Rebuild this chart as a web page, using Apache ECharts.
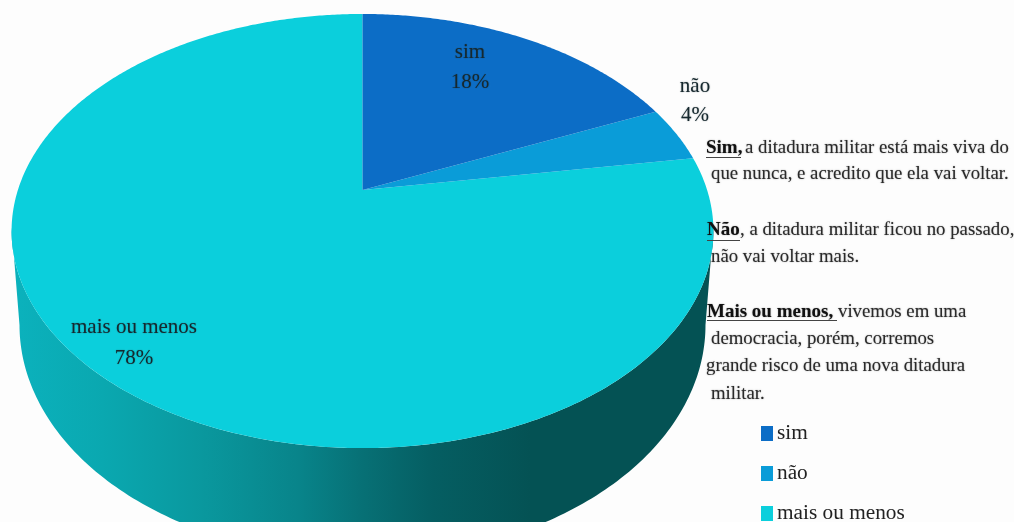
<!DOCTYPE html>
<html><head><meta charset="utf-8">
<style>html,body{margin:0;padding:0;background:#fdfdfd}#c{width:1014px;height:522px}</style>
<script src="https://cdn.jsdelivr.net/npm/echarts@6/dist/echarts.min.js"></script>
</head><body><div id="c"></div>
<script>
const categories = ['sim', 'não', 'mais ou menos'];
const sliceValues = [18.4, 4.1, 77.5];
const percentLabels = ['18%', '4%', '78%'];
const noteBold = ['Sim,', '', 'Não', '', 'Mais ou menos,', '', '', ''];
const noteText = [
  'a ditadura militar está mais viva do',
  'que nunca, e acredito que ela vai voltar.',
  ', a ditadura militar ficou no passado,',
  'não vai voltar mais.',
  'vivemos em uma',
  'democracia, porém, corremos',
  'grande risco de uma nova ditadura',
  'militar.'
];
// layout: [line centre y, bold x, bold end x, underline y, text x]
const noteLayout = [
  [150, 706, 741, 157, 745],
  [176, 0, 0, 0, 711],
  [232, 707, 740, 240, 740],
  [259, 0, 0, 0, 711],
  [314, 707, 837, 320, 838],
  [341, 0, 0, 0, 711],
  [368, 0, 0, 0, 706],
  [396, 0, 0, 0, 711]
];
const sliceColors = ['#0c6dc6', '#0a9cd8', '#0bcfdc'];
const labelPositions = [[470, 52, 82], [695, 86, 115], [134, 327, 358]];
const FONT = '"Liberation Serif", serif';
const total = sliceValues.reduce((a, b) => a + b, 0);
const CX = 362.5, CY = 190, R = 344.6, PA = 173.4, PC = -0.189;
function rim(deg) {
  const a = deg * Math.PI / 180, u = Math.sin(a), v = -Math.cos(a), w = 1 + PC * v;
  return [CX + R * u / w, (CY + PA * v) / w];
}
const WALL_CY = 325, WALL_RX = 343, WALL_RY = 233;
const wallFill = { type: 'linear', x: 0, y: 0, x2: 1, y2: 0, colorStops: [
  { offset: 0, color: '#0bb2bd' }, { offset: 0.13, color: '#0aa8b0' },
  { offset: 0.27, color: '#0a989e' }, { offset: 0.41, color: '#08848a' },
  { offset: 0.5, color: '#077075' }, { offset: 0.6, color: '#055e62' },
  { offset: 0.74, color: '#045254' }, { offset: 1, color: '#045254' }
] };
function wallPoints() {
  const pts = [];
  for (let d = 100; d <= 260; d += 1) pts.push(rim(d));
  for (let t = 180; t >= 0; t -= 1) {
    const a = t * Math.PI / 180;
    pts.push([CX + WALL_RX * Math.cos(a), WALL_CY + WALL_RY * Math.sin(a)]);
  }
  return pts;
}
function sliceRender(index) {
  return function (params, api) {
    const value = api.value(0);
    let before = 0;
    for (let i = 0; i < index; i++) before += sliceValues[i];
    const start = before / total * 360, end = (before + value) / total * 360;
    const pts = [[CX, CY]];
    for (let d = start; d < end; d += 0.5) pts.push(rim(d));
    pts.push(rim(end));
    const children = [];
    if (start < 100 && end > 260) {
      children.push({ type: 'polygon', shape: { points: wallPoints() }, style: { fill: wallFill } });
    }
    children.push({ type: 'polygon', shape: { points: pts }, style: { fill: sliceColors[index] } });
    const lp = labelPositions[index];
    const ts = { fontFamily: FONT, fontSize: 21, fill: '#16282e', align: 'center', verticalAlign: 'middle',
      textShadowBlur: 1.5, textShadowColor: 'rgba(20,40,45,0.45)' };
    children.push({ type: 'text', z2: 10, style: Object.assign({ text: categories[index], x: lp[0], y: lp[1] }, ts) });
    children.push({ type: 'text', z2: 10, style: Object.assign({ text: percentLabels[index], x: lp[0], y: lp[2] }, ts) });
    return { type: 'group', children };
  };
}
const graphicEls = [];
noteText.forEach((txt, i) => {
  const l = noteLayout[i];
  if (noteBold[i]) {
    graphicEls.push({ type: 'text', left: l[1], top: l[0] - 11, z: 50,
      style: { text: noteBold[i], fontFamily: FONT, fontSize: 19, fontWeight: 'bold', fill: '#111',
        textShadowBlur: 1.5, textShadowColor: 'rgba(0,0,0,0.4)' } });
    graphicEls.push({ type: 'rect', left: l[1], top: l[3], z: 50, shape: { width: l[2] - l[1], height: 1 }, style: { fill: '#444' } });
  }
  graphicEls.push({ type: 'text', left: l[4], top: l[0] - 11, z: 50,
    style: { text: txt, fontFamily: FONT, fontSize: 18.8, fill: '#2a2a2a',
      textShadowBlur: 1.5, textShadowColor: 'rgba(0,0,0,0.4)' } });
});
const chart = echarts.init(document.getElementById('c'), null, { renderer: 'canvas' });
chart.setOption({
  animation: false,
  backgroundColor: '#fdfdfd',
  legend: {
    orient: 'vertical', left: 761, top: 423, height: 140, padding: 0, itemWidth: 12, itemHeight: 15, itemGap: 19, icon: 'rect',
    data: categories, selectedMode: false,
    textStyle: { fontFamily: FONT, fontSize: 21.3, color: '#222', padding: [0, 0, 0, -1] }
  },
  graphic: graphicEls,
  series: categories.map((name, i) => ({
    type: 'custom', name, coordinateSystem: 'none', silent: true,
    itemStyle: { color: sliceColors[i] },
    renderItem: sliceRender(i),
    data: [[sliceValues[i]]]
  })).reverse()
});
</script></body></html>
